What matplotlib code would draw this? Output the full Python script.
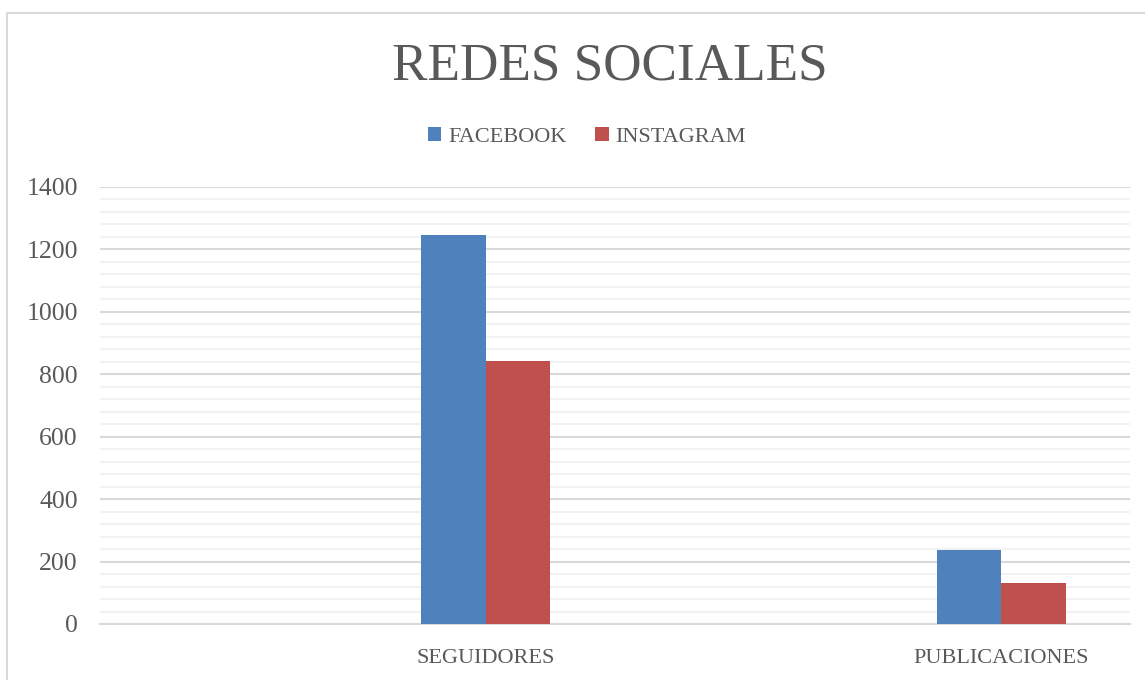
import matplotlib
matplotlib.use("Agg")
import matplotlib.pyplot as plt
from matplotlib.patches import Rectangle
from matplotlib.ticker import MultipleLocator
import numpy as np

categories = ["SEGUIDORES", "PUBLICACIONES"]
series_names = ["FACEBOOK", "INSTAGRAM"]
facebook = [1245, 236]
instagram = [843, 130]
yticks = [0, 200, 400, 600, 800, 1000, 1200, 1400]

colors = ["#4F81BD", "#C0504D"]
text_color = "#595959"
serif = ["Liberation Serif", "DejaVu Serif"]

W, H = 1145, 680
fig = plt.figure(figsize=(W / 100, H / 100), dpi=100)

# chart border (cropped on right/bottom)
fig.patches.append(Rectangle((7 / W, -0.2), 1.5, 1.2 - 13 / H, transform=fig.transFigure,
                             fill=False, edgecolor="#D9D9D9", linewidth=1.5))

ax = fig.add_axes([100 / W, 1 - 624 / H, (1130 - 100) / W, (624 - 187) / H])
ax.set_ylim(0, 1400)
unit = (1001.3 - 485.7)
ax.set_xlim((100 - 485.7) / unit, (1130 - 485.7) / unit)

x = np.arange(len(categories))
bw = 64.5 / unit
ax.bar(x - bw / 2, facebook, width=bw, color=colors[0], label=series_names[0], zorder=3)
ax.bar(x + bw / 2, instagram, width=bw, color=colors[1], label=series_names[1], zorder=3)

ax.set_yticks(yticks)
ax.yaxis.set_minor_locator(MultipleLocator(40))
ax.grid(axis="y", which="major", color="#D9D9D9", linewidth=1.5, zorder=0)
ax.grid(axis="y", which="minor", color="#F2F2F2", linewidth=1.5, zorder=0)
ax.tick_params(axis="y", which="both", length=0, pad=16, labelsize=18.5, labelcolor=text_color)
for lab in ax.get_yticklabels():
    lab.set_family(serif)

ax.set_xticks(x)
ax.set_xticklabels(categories, fontsize=16, color=text_color, family=serif)
ax.tick_params(axis="x", length=0, pad=18)

for s in ["top", "right", "left"]:
    ax.spines[s].set_visible(False)
ax.spines["bottom"].set_color("#D9D9D9")
ax.spines["bottom"].set_linewidth(1.5)
ax.set_facecolor("none")

fig.text(610 / W, 1 - 67 / H, "REDES SOCIALES", ha="center", va="center",
         fontsize=38.3, color=text_color, family=serif)

leg = fig.legend(loc="center", bbox_to_anchor=(587 / W, 1 - 137 / H), ncol=2, frameon=False,
                 prop={"family": serif, "size": 16}, handlelength=0.6, handleheight=0.6,
                 handletextpad=0.3, columnspacing=1.3, labelcolor=text_color)

fig.savefig("out.png", dpi=100)
